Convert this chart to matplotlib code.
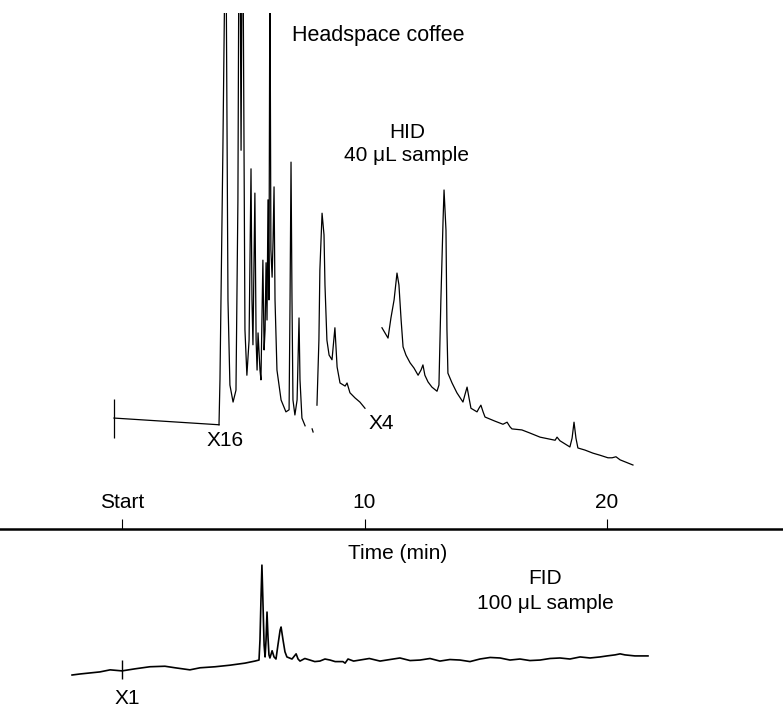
import matplotlib
matplotlib.use("Agg")
import matplotlib.pyplot as plt

plt.rcParams['font.family'] = ['Liberation Sans', 'DejaVu Sans']

# HID trace (headspace coffee, 40 uL), time in min, response in arbitrary units
hid_base_t = [-0.33, 4.00]
hid_base_v = [21.5, 20.2]
hid1_t = [4.00, 4.04, 4.16, 4.25, 4.29, 4.37, 4.45, 4.58, 4.70, 4.78, 4.82, 4.87,
          4.91, 4.95, 4.99, 5.07, 5.15, 5.24, 5.32, 5.36, 5.40, 5.48, 5.53, 5.57,
          5.61, 5.69, 5.73, 5.81, 5.86, 5.90, 5.94, 5.98, 6.02, 6.06, 6.10, 6.14,
          6.19, 6.23, 6.27, 6.31, 6.39, 6.56, 6.76, 6.89, 6.93, 6.97, 7.01, 7.05,
          7.13, 7.22, 7.30, 7.34, 7.42, 7.55]
hid1_v = [20.2, 28.9, 73.4, 112.2, 112.2, 44.4, 27.9, 24.6, 26.9, 63.8, 112.2, 112.2,
          73.4, 112.2, 112.2, 38.6, 29.8, 36.6, 69.8, 44.4, 35.7, 65.1, 36.6, 30.8,
          38.0, 30.8, 28.9, 52.1, 34.7, 38.6, 51.6, 40.5, 63.8, 44.4, 112.2, 54.1,
          48.8, 56.0, 66.3, 44.4, 30.8, 25.0, 22.7, 23.1, 44.4, 71.1, 44.4, 25.0,
          22.1, 25.0, 40.9, 28.9, 21.5, 20.0]
hid_dash_t = [7.84, 7.88]
hid_dash_v = [19.4, 18.8]
hid2_t = [8.04, 8.12, 8.16, 8.25, 8.33, 8.37, 8.45, 8.54, 8.66, 8.78, 8.87, 8.99,
          9.20, 9.28, 9.40, 9.61, 9.81, 10.02]
hid2_v = [24.0, 36.6, 50.2, 61.2, 57.0, 47.3, 36.6, 33.7, 32.8, 39.0, 31.4, 28.3,
          27.7, 28.3, 26.4, 25.4, 24.6, 23.4]
hid3_t = [10.72, 10.97, 11.09, 11.22, 11.34, 11.42, 11.51, 11.59, 11.71, 11.88, 12.04,
          12.21, 12.33, 12.41, 12.49, 12.62, 12.78, 12.99, 13.07, 13.15, 13.24, 13.28,
          13.36, 13.40, 13.44, 13.61, 13.81, 14.06, 14.14, 14.23, 14.31, 14.39, 14.64,
          14.72, 14.80, 14.89, 14.97, 15.38, 15.71, 15.88, 16.00, 16.08, 16.49, 16.82,
          17.24, 17.86, 17.94, 18.06, 18.47, 18.56, 18.64, 18.72, 18.80, 19.09, 19.42,
          19.71, 20.04, 20.21, 20.37, 20.54, 21.07]
hid3_v = [39.0, 37.0, 40.9, 44.4, 49.6, 47.3, 40.5, 35.3, 33.7, 32.2, 31.2,
          29.8, 30.8, 31.8, 29.8, 28.5, 27.5, 26.7, 27.9, 44.4, 59.9, 65.7,
          57.9, 38.6, 30.2, 28.3, 26.4, 24.6, 26.0, 27.5, 25.4, 23.4, 22.7,
          23.4, 24.0, 22.7, 21.7, 20.9, 20.3, 20.7, 19.8, 19.4, 19.2, 18.6,
          17.8, 17.2, 17.8, 17.1, 15.9, 17.6, 20.7, 17.6, 15.7, 15.3, 14.7,
          14.3, 13.8, 13.8, 14.0, 13.4, 12.4]
hid_start_t = -0.33
hid_start_v = (17.6, 25.2)

# FID trace (100 uL)
fid_t = [-2.06, -1.73, -1.32, -0.91, -0.49, 0.00, 0.54, 1.15, 1.77, 2.19, 2.80, 3.22,
         3.84, 4.45, 5.07, 5.48, 5.65, 5.69, 5.73, 5.77, 5.81, 5.86, 5.90, 5.94,
         5.98, 6.02, 6.06, 6.10, 6.19, 6.27, 6.35, 6.43, 6.52, 6.56, 6.64, 6.72,
         6.80, 7.01, 7.18, 7.26, 7.34, 7.54, 7.75, 7.95, 8.16, 8.37, 8.58, 8.79,
         9.11, 9.20, 9.32, 9.55, 9.81, 10.20, 10.64, 11.05, 11.46, 11.88, 12.29,
         12.70, 13.11, 13.52, 13.94, 14.35, 14.76, 15.18, 15.59, 16.00, 16.41, 16.82,
         17.24, 17.65, 18.06, 18.47, 18.89, 19.30, 19.71, 20.00, 20.33, 20.54, 20.74,
         21.15, 21.69]
fid_v = [6.2, 6.4, 6.6, 6.8, 7.2, 7.0, 7.4, 7.8, 7.9, 7.6, 7.2, 7.6,
         7.8, 8.1, 8.5, 8.9, 9.1, 13.0, 20.7, 27.5, 20.7, 12.0, 9.7, 13.0,
         18.4, 13.6, 10.1, 9.5, 10.9, 9.7, 9.3, 12.0, 14.9, 15.5, 13.0, 10.7,
         9.7, 9.3, 10.3, 9.3, 8.9, 9.4, 9.1, 8.8, 8.9, 9.3, 9.1, 8.8,
         8.8, 8.5, 9.3, 8.9, 9.1, 9.4, 8.9, 9.2, 9.5, 9.0, 9.1,
         9.4, 8.9, 9.2, 9.1, 8.8, 9.3, 9.6, 9.5, 9.1, 9.3, 9.0,
         9.1, 9.4, 9.5, 9.3, 9.7, 9.5, 9.7, 9.9, 10.1, 10.3, 10.1,
         9.9, 9.9]
fid_start_t = 0.0
fid_start_v = (5.4, 9.1)

tick_pos = [0, 10, 20]
tick_labels = ['Start', '10', '20']

W, H = 783, 707
fig = plt.figure(figsize=(W / 100, H / 100), dpi=100)
ax_top = fig.add_axes([0, (H - 529) / H, 1, (529 - 13) / H])
ax_bot = fig.add_axes([0, 0, 1, (H - 529) / H])

xlim = (-122 / 24.25, (W - 122) / 24.25)
for ax in (ax_top, ax_bot):
    ax.set_xlim(*xlim)
    for s in ax.spines.values():
        s.set_visible(False)
    ax.set_yticks([])
ax_top.set_ylim(0, 100)
ax_bot.set_ylim(0, (H - 529) / 5.16)
ax_top.set_xticks([])

lw = 0.9
c = 'black'
ax_top.plot(hid_base_t, hid_base_v, color=c, lw=lw)
ax_top.plot(hid1_t, hid1_v, color=c, lw=lw)
ax_top.plot(hid_dash_t, hid_dash_v, color=c, lw=lw)
ax_top.plot(hid2_t, hid2_v, color=c, lw=lw)
ax_top.plot(hid3_t, hid3_v, color=c, lw=lw)
ax_top.vlines(hid_start_t, *hid_start_v, color=c, lw=lw)

ax_bot.plot(fid_t, fid_v, color=c, lw=1.2)
ax_bot.vlines(fid_start_t, *fid_start_v, color=c, lw=1.0)

# time axis = top spine of lower panel
ax_bot.spines['top'].set_visible(True)
ax_bot.spines['top'].set_linewidth(1.8)
ax_bot.xaxis.tick_top()
ax_bot.set_xticks(tick_pos, tick_labels)
ax_bot.tick_params(axis='x', direction='out', length=7.2, width=0.8, pad=5,
                   labelsize=15)

fs = 15
ax_top.text(7.01, 95.7, 'Headspace coffee', fontsize=15.5, ha='left', va='center')
ax_top.text(11.75, 76.9, 'HID', fontsize=fs, ha='center', va='center')
ax_top.text(11.75, 72.3, '40 μL sample', fontsize=fs, ha='center', va='center')
ax_top.text(4.25, 17.2, 'X16', fontsize=fs, ha='center', va='center')
ax_top.text(10.68, 20.5, 'X4', fontsize=fs, ha='center', va='center')

ax_bot.text(11.38, 29.8, 'Time (min)', fontsize=fs, ha='center', va='center')
ax_bot.text(17.44, 25.0, 'FID', fontsize=fs, ha='center', va='center')
ax_bot.text(17.44, 20.0, '100 μL sample', fontsize=fs, ha='center', va='center')
ax_bot.text(0.21, 1.6, 'X1', fontsize=fs, ha='center', va='center')

fig.savefig('out.png', dpi=100)
